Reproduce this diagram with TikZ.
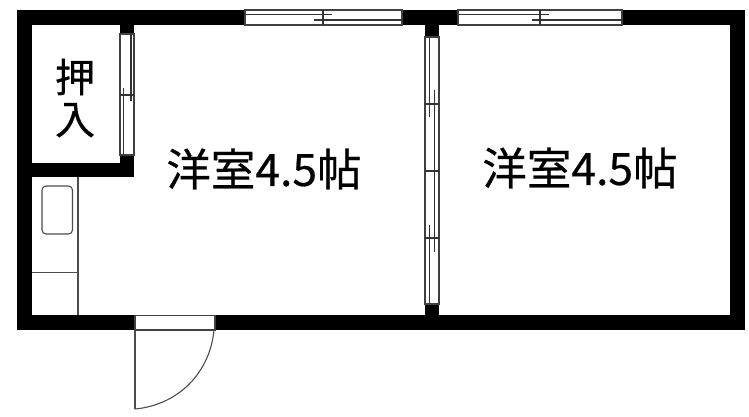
\documentclass[tikz,border=0pt]{standalone}
\usepackage{fontspec}
\newfontfamily\cjk[FakeBold=0.5]{Noto Sans CJK JP}
\tikzset{
  wall/.style={fill=black,draw=none},
  thin line/.style={draw=black!70,line width=1.1pt},
  sash/.style={draw=black!80,line width=1.1pt},
  frame line/.style={draw=black!75,fill=white,line width=1.1pt},
  room label/.style={font=\cjk\fontsize{44.5}{46}\selectfont,inner sep=0pt,text=black},
  closet label/.style={font=\cjk\fontsize{40}{40}\selectfont,inner sep=0pt,align=center,text=black}
}
\begin{document}
\begin{tikzpicture}[x=1pt,y=-1pt]
\useasboundingbox (0,0) rectangle (749,417);
\fill[white] (0,0) rectangle (749,417);
% walls
\fill[wall] (17,10) rectangle (745,25);
\fill[wall] (17,315) rectangle (745,330);
\fill[wall] (17,10) rectangle (32,330);
\fill[wall] (730,10) rectangle (745,330);
\fill[wall] (32,163) rectangle (134,177);
\fill[wall] (120,25) rectangle (134,163);
\fill[wall] (425,25) rectangle (439,315);
% top windows
\path[frame line] (245,10) rectangle (402,25);
\path[frame line] (458,10) rectangle (622,25);
\draw[sash] (245,14.5) -- (332,14.5) (314,20) -- (402,20) (323,10) -- (323,25);
\draw[sash] (458,14.5) -- (549,14.5) (532,20) -- (622,20) (540,10) -- (540,25);
% closet window
\path[frame line] (120,34) rectangle (134,155);
\draw[sash] (131,34) -- (131,101) (123.5,88) -- (123.5,155) (120,95) -- (134,95);
% partition windows
\path[frame line] (425,37) rectangle (439,304);
\draw[sash] (429.5,37) -- (429.5,117) (429.5,225) -- (429.5,304)
  (434.3,90) -- (434.3,252)
  (425,104) -- (439,104) (425,171) -- (439,171) (425,238) -- (439,238);
% door
\path[frame line] (135,315.5) rectangle (215,330);
\draw[thin line] (135,330) -- (135,409);
\draw[thin line] (135,409) .. controls (178,405) and (210,373) .. (214,330);
% kitchen
\draw[thin line] (78,177) -- (78,315);
\draw[thin line] (32,272.5) -- (78,272.5);
\draw[thin line,rounded corners=4pt] (42,186) rectangle (72.5,234);
% labels
\node[closet label] (closet) at (75,98) {押\\[2pt]入};
\node[room label] (roomA) at (264,169) {洋室4.5帖};
\node[room label] (roomB) at (580,168) {洋室4.5帖};
\end{tikzpicture}
\end{document}
